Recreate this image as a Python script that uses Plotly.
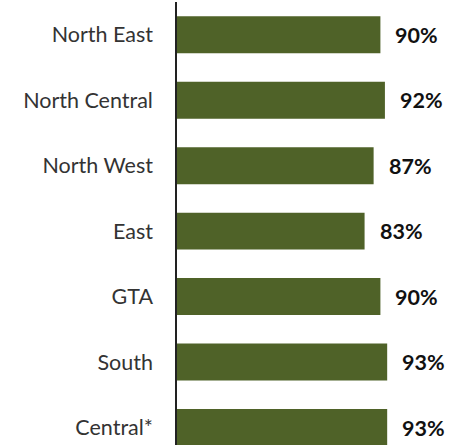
import plotly.graph_objs as go

regions = ['North East', 'North Central', 'North West', 'East', 'GTA', 'South', 'Central*']
pct = [90, 92, 87, 83, 90, 93, 93]
labels = [f'{v}%' for v in pct]

fig = go.Figure()

fig.add_trace(go.Bar(
    x=pct,
    y=regions,
    orientation='h',
    marker=dict(color='#4F6228', line=dict(width=0)),
    width=0.565,
    hoverinfo='skip',
))

for r, v, t in zip(regions, pct, labels):
    fig.add_annotation(
        x=v, y=r, text=t, showarrow=False,
        xanchor='left', xshift=13,
        font=dict(family='Lato', size=21.5, color='#111111', weight='bold'),
    )

fig.update_layout(
    width=461, height=445,
    margin=dict(l=177, r=58, t=2, b=0),
    plot_bgcolor='white',
    paper_bgcolor='white',
    showlegend=False,
    font=dict(family='Lato', size=21.5, color='#333333'),
)

fig.update_xaxes(range=[0, 100], visible=False, fixedrange=True)
fig.update_yaxes(
    type='category',
    range=[6.267, -0.5],
    showline=True, linecolor='#222222', linewidth=1.5,
    showgrid=False, zeroline=False,
    ticks='', ticklabelstandoff=18,
    fixedrange=True,
)

# the page body has an 8px default margin; drop it so the figure sits at 0,0
fig.write_html("out.html", config={'displayModeBar': False},
               post_script="document.body.style.margin='0';")
